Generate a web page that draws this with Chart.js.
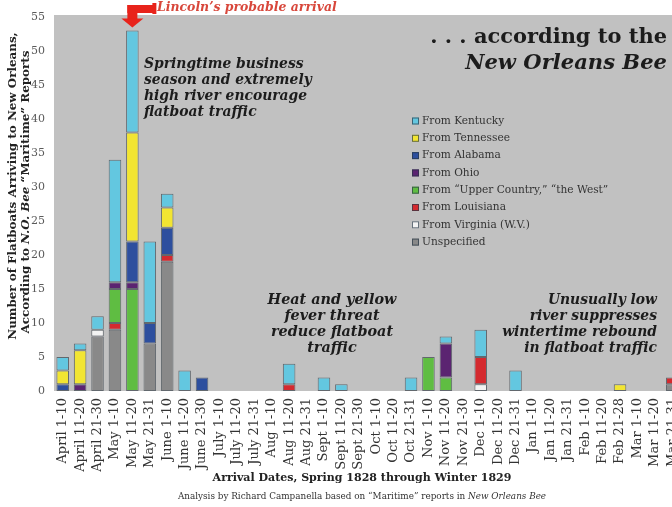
<!DOCTYPE html>
<html>
<head>
<meta charset="utf-8">
<script src="https://cdn.jsdelivr.net/npm/chart.js@4.4.1/dist/chart.umd.min.js"></script>
<style>
  html, body { margin: 0; padding: 0; background: #fff; overflow: hidden; }
  #wrap { width: 681px; height: 507px; }
</style>
</head>
<body>
<div id="wrap"><canvas id="chart" width="681" height="507"></canvas></div>
<script>
// ten-day arrival periods, spring 1828 - winter 1829
const periods = [
  "April 1-10", "April 11-20", "April 21-30", "May 1-10", "May 11-20", "May 21-31",
  "June 1-10", "June 11-20", "June 21-30", "July 1-10", "July 11-20", "July 21-31",
  "Aug 1-10", "Aug 11-20", "Aug 21-31", "Sept 1-10", "Sept 11-20", "Sept 21-30",
  "Oct 1-10", "Oct 11-20", "Oct 21-31", "Nov 1-10", "Nov 11-20", "Nov 21-30",
  "Dec 1-10", "Dec 11-20", "Dec 21-31", "Jan 1-10", "Jan 11-20", "Jan 21-31",
  "Feb 1-10", "Feb 11-20", "Feb 21-28", "Mar 1-10", "Mar 11-20", "Mar 21-31"
];

// flatboat counts per origin (bottom of stack first)
const unspecified = [0,0,8,9,0,7,19,0,0,0,0,0,0,0,0,0,0,0,0,0,0,0,0,0,0,0,0,0,0,0,0,0,0,0,0,1];
const virginia    = [0,0,1,0,0,0,0,0,0,0,0,0,0,0,0,0,0,0,0,0,0,0,0,0,1,0,0,0,0,0,0,0,0,0,0,0];
const louisiana   = [0,0,0,1,0,0,1,0,0,0,0,0,0,1,0,0,0,0,0,0,0,0,0,0,4,0,0,0,0,0,0,0,0,0,0,1];
const theWest     = [0,0,0,5,15,0,0,0,0,0,0,0,0,0,0,0,0,0,0,0,0,5,2,0,0,0,0,0,0,0,0,0,0,0,0,0];
const ohio        = [0,1,0,1,1,0,0,0,0,0,0,0,0,0,0,0,0,0,0,0,0,0,5,0,0,0,0,0,0,0,0,0,0,0,0,0];
const alabama     = [1,0,0,0,6,3,4,0,2,0,0,0,0,0,0,0,0,0,0,0,0,0,0,0,0,0,0,0,0,0,0,0,0,0,0,0];
const tennessee   = [2,5,0,0,16,0,3,0,0,0,0,0,0,0,0,0,0,0,0,0,0,0,0,0,0,0,0,0,0,0,0,0,1,0,0,0];
const kentucky    = [2,1,2,18,15,12,2,3,0,0,0,0,0,3,0,2,1,0,0,0,2,0,1,0,4,0,3,0,0,0,0,0,0,0,0,0];

const yMax = 55;
const yStep = 5;

const series = [
  { label: "Unspecified",                        data: unspecified, color: "#898989" },
  { label: "From Virginia (W.V.)",               data: virginia,    color: "#f3f3f3" },
  { label: "From Louisiana",                     data: louisiana,   color: "#d42a2f" },
  { label: "From \u201cUpper Country,\u201d \u201cthe West\u201d", data: theWest, color: "#5fbd42" },
  { label: "From Ohio",                          data: ohio,        color: "#5b2471" },
  { label: "From Alabama",                       data: alabama,     color: "#2d4f9e" },
  { label: "From Tennessee",                     data: tennessee,   color: "#f2e532" },
  { label: "From Kentucky",                      data: kentucky,    color: "#63c7e0" }
];

const SERIF = "'DejaVu Serif', serif";

function fontOf(r, size) {
  return `${r.style || "normal"} ${r.weight || "normal"} ${size}px ${r.family || SERIF}`;
}
function runsWidth(ctx, runs, size) {
  let w = 0;
  runs.forEach(r => { ctx.font = fontOf(r, size); w += ctx.measureText(r.text).width; });
  return w;
}
// font size that makes the runs as wide as target
function fitSize(ctx, runs, target) {
  return 10 * target / runsWidth(ctx, runs, 10);
}
function drawRuns(ctx, runs, size, x, y, align) {
  const w = runsWidth(ctx, runs, size);
  let cx = align === "right" ? x - w : align === "center" ? x - w / 2 : x;
  ctx.textAlign = "left";
  runs.forEach(r => {
    ctx.font = fontOf(r, size);
    ctx.fillText(r.text, cx, y);
    cx += ctx.measureText(r.text).width;
  });
}
function drawBlock(ctx, lines, refIndex, refWidth, x, y0, lh, align, style) {
  const runsOf = t => [{ text: t, weight: "bold", style: style }];
  const size = fitSize(ctx, runsOf(lines[refIndex]), refWidth);
  lines.forEach((t, i) => drawRuns(ctx, runsOf(t), size, x, y0 + i * lh, align));
}

const plotBackground = {
  id: "plotBackground",
  beforeDraw(chart) {
    const { ctx, chartArea: a } = chart;
    ctx.save();
    ctx.fillStyle = "#c1c1c1";
    ctx.fillRect(a.left, a.top - 2, a.right - a.left, a.bottom - a.top + 2);
    ctx.restore();
  }
};

const annotations = {
  id: "annotations",
  afterDraw(chart) {
    const { ctx } = chart;
    const xs = chart.scales.x, ys = chart.scales.y;
    ctx.save();
    ctx.textBaseline = "middle";

    // arrow to the May 11-20 bar
    const peak = 4;
    const total = series.reduce((s, d) => s + d.data[peak], 0);
    const cx = xs.getPixelForValue(peak);
    const tip = ys.getPixelForValue(total) - 3;
    ctx.fillStyle = "#e8231b";
    ctx.fillRect(cx - 5, 5, 10, tip - 13);
    ctx.fillRect(cx - 5, 5, 27, 8);
    ctx.fillRect(cx + 20, 3, 4, 11);
    ctx.beginPath();
    ctx.moveTo(cx - 11, tip - 9);
    ctx.lineTo(cx + 11, tip - 9);
    ctx.lineTo(cx, tip);
    ctx.closePath();
    ctx.fill();

    ctx.fillStyle = "#d8473b";
    const lincoln = [{ text: "Lincoln\u2019s probable arrival", style: "italic", weight: "bold" }];
    drawRuns(ctx, lincoln, fitSize(ctx, lincoln, 180), 157, 8, "left");

    // notes
    ctx.fillStyle = "#1c1c1c";
    drawBlock(ctx, ["Springtime business", "season and extremely", "high river encourage", "flatboat traffic"],
      1, 168, 144, 64, 16, "left", "italic");
    drawBlock(ctx, ["Heat and yellow", "fever threat", "reduce flatboat", "traffic"],
      0, 129, 332, 300, 16, "center", "italic");
    drawBlock(ctx, ["Unusually low", "river suppresses", "wintertime rebound", "in flatboat traffic"],
      2, 155, 657, 300, 16, "right", "italic");

    const h1 = [{ text: ". . . according to the", weight: "bold" }];
    drawRuns(ctx, h1, fitSize(ctx, h1, 237), 667, 38, "right");
    const h2 = [{ text: "New Orleans Bee", weight: "bold", style: "italic" }];
    drawRuns(ctx, h2, fitSize(ctx, h2, 202), 667, 64, "right");

    // legend, top of stack first
    const legendSize = fitSize(ctx, [{ text: "From Virginia (W.V.)" }], 108);
    chart.data.datasets.slice().reverse().forEach((ds, i) => {
      const y = 121 + i * 17.3;
      ctx.fillStyle = ds.backgroundColor;
      ctx.fillRect(412, y - 3.5, 7, 7);
      ctx.strokeStyle = "rgba(40,55,70,0.7)";
      ctx.lineWidth = 1;
      ctx.strokeRect(412.5, y - 3, 6, 6);
      ctx.fillStyle = "#333";
      drawRuns(ctx, [{ text: ds.label }], legendSize, 422, y, "left");
    });

    // axis titles
    ctx.fillStyle = "#222";
    const xt = [{ text: "Arrival Dates, Spring 1828 through Winter 1829", weight: "bold" }];
    drawRuns(ctx, xt, fitSize(ctx, xt, 299), 362, 478, "center");
    const credit = [
      { text: "Analysis by Richard Campanella based on \u201cMaritime\u201d reports in " },
      { text: "New Orleans Bee", style: "italic" }
    ];
    ctx.fillStyle = "#333";
    drawRuns(ctx, credit, fitSize(ctx, credit, 369), 362, 497, "center");

    ctx.fillStyle = "#222";
    const yt1 = [{ text: "Number of Flatboats Arriving to New Orleans,", weight: "bold" }];
    const yt2 = [
      { text: "According to ", weight: "bold" },
      { text: "N.O. Bee", weight: "bold", style: "italic" },
      { text: " \u201cMaritime\u201d Reports", weight: "bold" }
    ];
    const ySize = fitSize(ctx, yt1, 308);
    ctx.save();
    ctx.translate(13, 186);
    ctx.rotate(-Math.PI / 2);
    drawRuns(ctx, yt1, ySize, 0, 0, "center");
    ctx.restore();
    ctx.save();
    ctx.translate(26, 192);
    ctx.rotate(-Math.PI / 2);
    drawRuns(ctx, yt2, ySize, 0, 0, "center");
    ctx.restore();

    ctx.restore();
  }
};

const datasets = series.map(s => ({
  label: s.label,
  data: s.data.map(v => (v === 0 ? null : v)),
  backgroundColor: s.color,
  borderColor: "rgba(35,45,55,0.6)",
  borderWidth: 1,
  borderSkipped: false,
  barPercentage: 0.72,
  categoryPercentage: 1
}));

new Chart(document.getElementById("chart"), {
  type: "bar",
  data: { labels: periods, datasets: datasets },
  options: {
    responsive: false,
    animation: false,
    layout: { padding: { top: 17, right: 0, bottom: 0, left: 0 } },
    plugins: { legend: { display: false }, tooltip: { enabled: false } },
    scales: {
      x: {
        stacked: true,
        grid: { display: false, drawTicks: false },
        border: { display: false },
        ticks: {
          autoSkip: false, minRotation: 90, maxRotation: 90, padding: 7,
          color: "#333", font: { family: SERIF, size: 13 }
        },
        afterFit(s) { s.height = 116; s.paddingLeft = 0; s.paddingRight = 0; }
      },
      y: {
        stacked: true,
        min: 0,
        max: yMax,
        grid: { display: false, drawTicks: false },
        border: { display: false },
        ticks: { stepSize: yStep, padding: 9, color: "#5a5a5a", font: { family: SERIF, size: 11 } },
        afterFit(s) { s.width = 54; }
      }
    }
  },
  plugins: [plotBackground, annotations]
});
</script>
</body>
</html>
